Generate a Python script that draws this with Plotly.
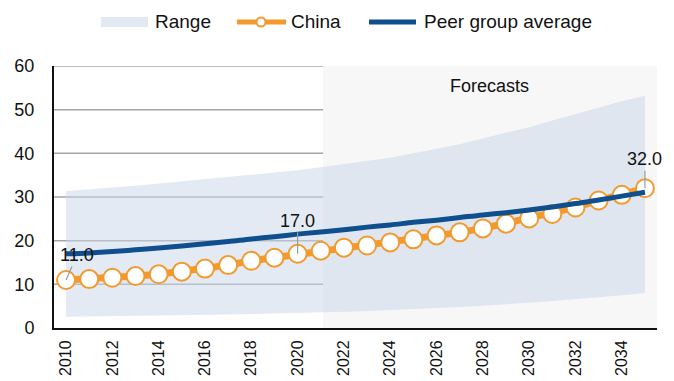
import plotly.graph_objects as go

years = list(range(2010, 2036))

china = [11.0, 11.2, 11.5, 11.9, 12.3, 12.9, 13.6, 14.4, 15.4, 16.1, 17.0,
         17.7, 18.4, 18.9, 19.6, 20.3, 21.2, 21.9, 22.8, 23.9, 25.1,
         26.1, 27.6, 29.2, 30.5, 32.0]

peer_avg = [17.0, 17.2, 17.5, 17.9, 18.3, 18.8, 19.3, 19.8, 20.4, 20.9, 21.5,
            22.0, 22.5, 23.1, 23.6, 24.2, 24.7, 25.3, 25.9, 26.4, 27.0,
            27.7, 28.5, 29.3, 30.2, 31.1]

range_low = [2.6, 2.65, 2.7, 2.75, 2.8, 2.9, 3.0, 3.1, 3.2, 3.3, 3.4,
             3.55, 3.7, 3.9, 4.1, 4.3, 4.55, 4.8, 5.1, 5.4, 5.8,
             6.2, 6.6, 7.0, 7.5, 8.0]

range_high = [31.3, 31.8, 32.2, 32.6, 33.1, 33.5, 34.0, 34.5, 35.0, 35.5, 36.1,
              36.8, 37.5, 38.2, 39.0, 40.0, 41.0, 42.1, 43.4, 44.7, 46.0,
              47.5, 49.0, 50.5, 51.9, 53.2]

# labelled China points and the pixel offset of each label
labelled = {2010: (11, -25), 2020: (0, -33), 2035: (0, -29)}

tick_years = list(range(2010, 2036, 2))
y_ticks = [0, 10, 20, 30, 40, 50, 60]
forecast_start = 2021.1

FONT = "Liberation Sans, Arial, sans-serif"
ORANGE = "#f39a2e"
BLUE = "#0f4f8d"
BAND = "rgba(200,214,234,0.5)"
GRID = "#a6a6a6"

W, H = 674, 381
M = dict(l=54, r=17, t=66, b=53)
PW = W - M["l"] - M["r"]
PH = H - M["t"] - M["b"]


def px(x):
    """Pixel column -> paper x."""
    return (x - M["l"]) / PW


def py(y):
    """Pixel row -> paper y."""
    return (H - M["b"] - y) / PH


fig = go.Figure()

fig.add_trace(go.Scatter(x=years, y=range_low, mode="lines",
                         line=dict(width=0), showlegend=False, hoverinfo="skip"))
fig.add_trace(go.Scatter(x=years, y=range_high, mode="lines", name="Range",
                         line=dict(width=0), fill="tonexty", fillcolor=BAND))
fig.add_trace(go.Scatter(x=years, y=china, mode="lines+markers", name="China",
                         line=dict(color=ORANGE, width=7),
                         marker=dict(size=18, color="white",
                                     line=dict(color=ORANGE, width=2))))
fig.add_trace(go.Scatter(x=years, y=peer_avg, mode="lines", name="Peer group average",
                         line=dict(color=BLUE, width=5, shape="spline")))

# shaded forecast period, with gridlines drawn on top of it
fig.add_shape(type="rect", xref="x", yref="y", x0=forecast_start, x1=2035.62,
              y0=0, y1=60, fillcolor="#f7f7f7", line=dict(width=0), layer="between")
for v in y_ticks[1:]:
    fig.add_shape(type="line", xref="paper", yref="y", x0=0, x1=1, y0=v, y1=v,
                  line=dict(color=GRID, width=1.5), layer="between")

fig.add_annotation(x=(forecast_start + 2035.5) / 2, y=55.5, text="Forecasts",
                   showarrow=False, font=dict(family=FONT, size=18, color="#111"))

for yr, (ax, ay) in labelled.items():
    val = china[years.index(yr)]
    fig.add_annotation(x=yr, y=val, text=f"{val:.1f}", showarrow=True,
                       arrowhead=0, arrowwidth=1.2, arrowcolor="#9a9a9a",
                       ax=ax, ay=ay, standoff=0,
                       font=dict(family=FONT, size=18, color="#111"))

# legend row
LY = 22
fig.add_shape(type="rect", xref="paper", yref="paper",
              x0=px(101), x1=px(148), y0=py(27), y1=py(17),
              fillcolor="#e3e9f2", line=dict(width=0))
fig.add_shape(type="line", xref="paper", yref="paper",
              x0=px(237), x1=px(286), y0=py(LY), y1=py(LY),
              line=dict(color=ORANGE, width=5))
fig.add_shape(type="circle", xref="paper", yref="paper",
              x0=px(256.5), x1=px(265.5), y0=py(26.5), y1=py(17.5),
              fillcolor="white", line=dict(color=ORANGE, width=2))
fig.add_shape(type="line", xref="paper", yref="paper",
              x0=px(369), x1=px(416), y0=py(LY), y1=py(LY),
              line=dict(color=BLUE, width=5))
for name, left in [("Range", 153), ("China", 289), ("Peer group average", 422)]:
    fig.add_annotation(xref="paper", yref="paper", x=px(left), y=py(LY),
                       xanchor="left", yanchor="middle", text=name,
                       showarrow=False, font=dict(family=FONT, size=19, color="#111"))

fig.update_layout(
    width=W, height=H,
    margin=M,
    paper_bgcolor="white", plot_bgcolor="white",
    font=dict(family=FONT, size=18, color="#111"),
    showlegend=False,
    xaxis=dict(range=[2009.48, 2035.52], tickvals=tick_years,
               ticktext=[str(t) for t in tick_years], tickangle=-90,
               showgrid=False, zeroline=False, showline=True,
               linecolor="#111", linewidth=2, ticks="", ticklabelstandoff=4,
               automargin=False, tickfont=dict(family=FONT, size=16)),
    yaxis=dict(range=[0, 60], tickvals=y_ticks,
               showgrid=False, zeroline=False, showline=True,
               linecolor="#111", linewidth=2, ticks="", ticklabelstandoff=14,
               automargin=False, tickfont=dict(family=FONT, size=18)),
)

fig.write_html("out.html")
